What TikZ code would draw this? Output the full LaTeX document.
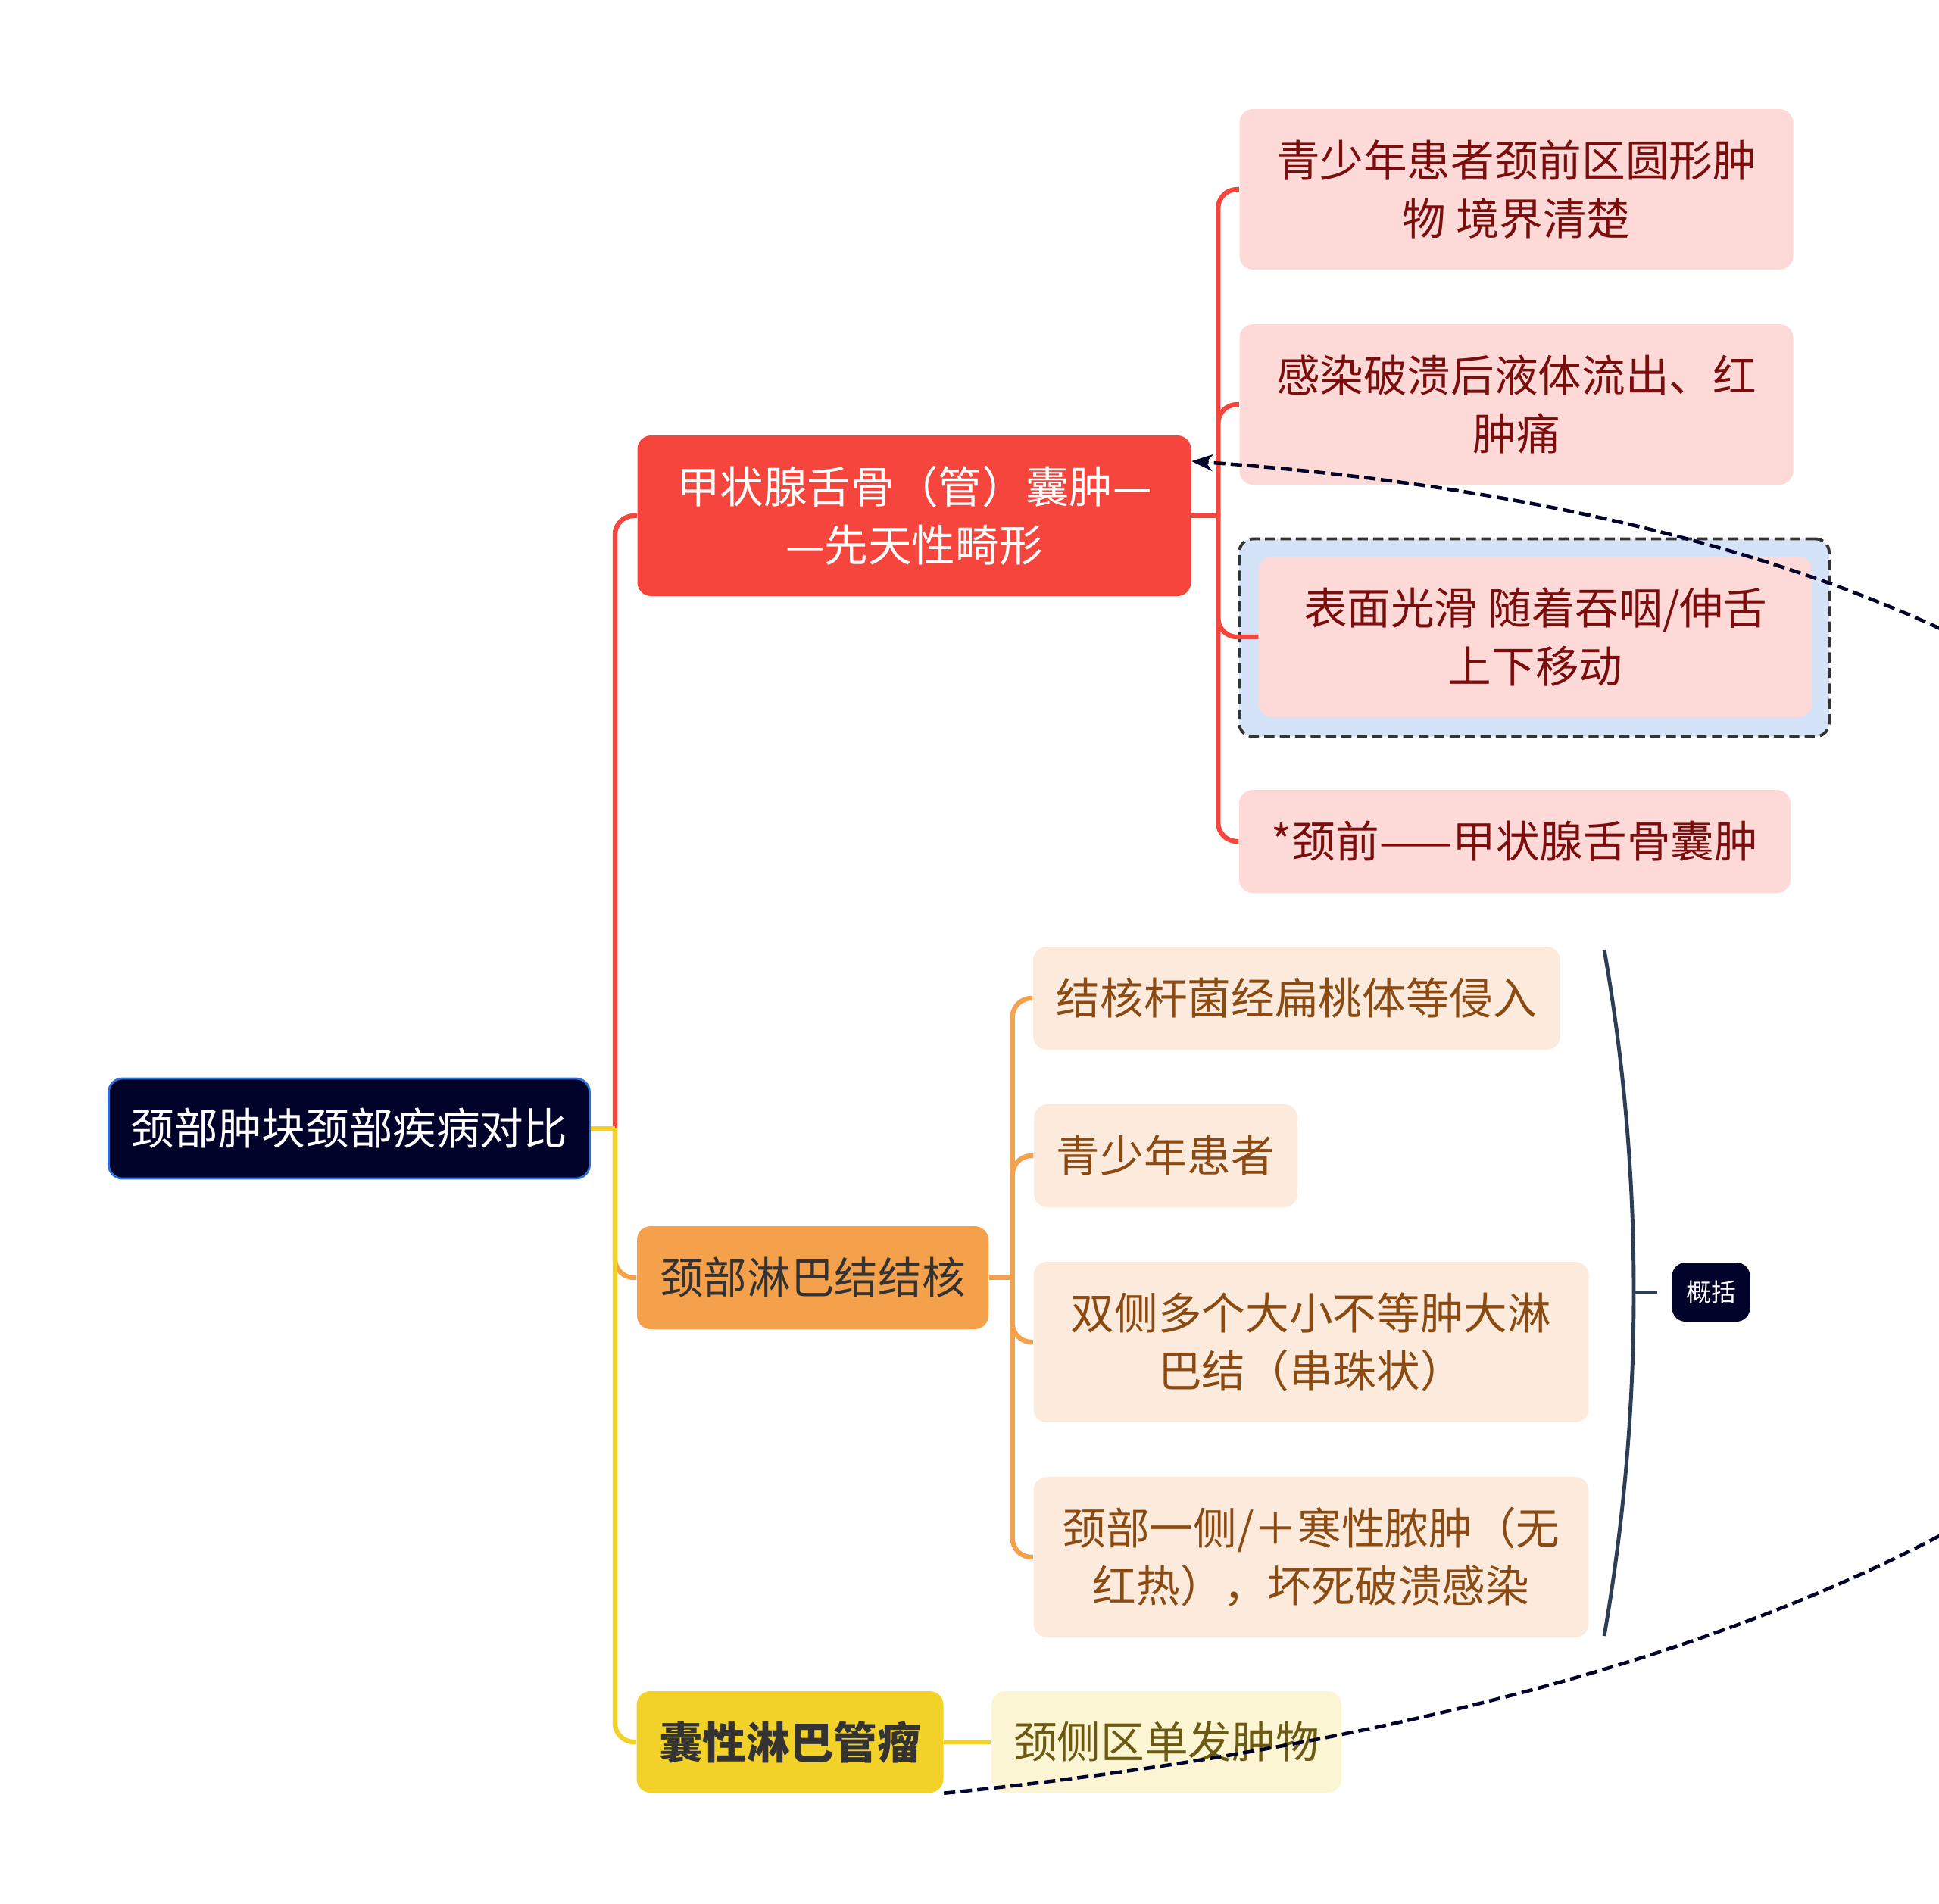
\documentclass[tikz,border=0pt]{standalone}
\usepackage{fontspec}
\setmainfont{Noto Sans CJK SC}
\usetikzlibrary{arrows.meta}

\definecolor{rootnavy}{HTML}{02032A}
\definecolor{rootedge}{HTML}{2F6FD6}
\definecolor{thyred}{HTML}{F5453D}
\definecolor{thyleaf}{HTML}{FDD9D8}
\definecolor{thytext}{HTML}{7B0D0D}
\definecolor{lymorange}{HTML}{F5A04B}
\definecolor{lymleaf}{HTML}{FCEBDC}
\definecolor{lymtext}{HTML}{8A4A12}
\definecolor{cystyellow}{HTML}{F2D228}
\definecolor{cystleaf}{HTML}{FCF5D3}
\definecolor{cysttext}{HTML}{6B5A12}
\definecolor{darktext}{HTML}{333333}
\definecolor{markblue}{HTML}{D5E3F8}
\definecolor{sumgray}{HTML}{2C3E55}

\begin{document}
\begin{tikzpicture}[
    every node/.style={align=center, inner sep=0pt, rounded corners=0.18cm,
      font=\fontsize{16.4}{21.8}\selectfont},
    box/.style={fill=#1, minimum height=1.36cm},
    redleaf/.style={box=thyleaf, text=thytext, minimum width=7.31cm},
    orleaf/.style={box=lymleaf, text=lymtext},
    branch/.style={draw=#1, line width=1.8pt, rounded corners=0.25cm},
    sumline/.style={draw=sumgray, line width=1.4pt},
    relation/.style={draw=rootnavy, line width=1.3pt, dash pattern=on 4.3pt off 2pt,
      -{Stealth[length=0.28cm,width=0.22cm]}}
  ]
  \useasboundingbox (0,0) rectangle (25.6,-25.13);

  % main topic and branches
  \node[box=rootnavy, draw=rootedge, line width=0.8pt, text=white, minimum width=6.35cm, minimum height=1.32cm] (root) at (4.61,-14.90) {颈部肿块颈部疾病对比};
  \node[box=thyred, text=white, minimum width=7.31cm, minimum height=2.12cm] (thy) at (12.07,-6.81) {甲状腺舌骨（管）囊肿—\\—先天性畸形};
  \node[box=lymorange, text=darktext, minimum width=4.64cm] (tb) at (10.73,-16.87) {颈部淋巴结结核};
  \node[box=cystyellow, text=darktext, font=\fontsize{16.4}{21.8}\selectfont\bfseries, minimum width=4.05cm, minimum height=1.34cm] (cyst) at (10.43,-23.00) {囊性淋巴管瘤};

  % leaves of the red branch
  \node[redleaf, minimum height=2.12cm] (r1) at (20.02,-2.50) {青少年患者颈前区圆形肿\\物 境界清楚};
  \node[redleaf, minimum height=2.12cm] (r2) at (20.02,-5.34) {感染破溃后液体流出、红\\肿痛};
  \node[fill=markblue, draw=darktext, line width=1.1pt, dash pattern=on 3.8pt off 2pt, minimum width=7.79cm, minimum height=2.61cm] (mark) at (20.255,-8.42) {};
  \node[redleaf, minimum width=7.30cm, minimum height=2.12cm] (r3) at (20.27,-8.41) {表面光滑 随着吞咽/伸舌\\上下移动};
  \node[redleaf, minimum width=7.28cm] (r4) at (20.00,-11.11) {*颈前——甲状腺舌骨囊肿};

  % leaves of the orange branch
  \node[orleaf, minimum width=6.96cm] (o1) at (17.12,-13.18) {结核杆菌经扁桃体等侵入};
  \node[orleaf, minimum width=3.48cm] (o2) at (15.39,-15.26) {青少年患者};
  \node[orleaf, minimum width=7.33cm, minimum height=2.12cm] (o3) at (17.31,-17.72) {双侧多个大小不等肿大淋\\巴结（串珠状）};
  \node[orleaf, minimum width=7.33cm, minimum height=2.12cm] (o4) at (17.31,-20.56) {颈部一侧/＋寒性脓肿（无\\红热），坏死破溃感染};

  % leaf of the yellow branch
  \node[box=cystleaf, text=cysttext, minimum width=4.62cm, minimum height=1.34cm] (side) at (15.40,-23.00) {颈侧区单发肿物};

  % summary
  \node[box=rootnavy, text=white, font=\fontsize{9.3}{11}\selectfont, minimum width=1.03cm, minimum height=0.78cm] (summ) at (22.59,-17.06) {概括};

  % connectors
  \coordinate (hub) at ([xshift=0.32cm]root.east);
  \draw[branch=thyred] (hub) |- (thy.west);
  \draw[branch=lymorange] (hub) |- (tb.west);
  \draw[branch=cystyellow] (hub) |- (cyst.west);
  \draw[branch=cystyellow, rounded corners=0] (root.east) -- (hub);

  \coordinate (rhub) at ([xshift=0.35cm]thy.east);
  \draw[branch=thyred] (thy.east) -- (rhub);
  \foreach \leaf in {r1,r2,r3,r4}
    \draw[branch=thyred] (rhub) |- (\leaf.west);

  \coordinate (ohub) at ([xshift=0.31cm]tb.east);
  \draw[branch=lymorange] (tb.east) -- (ohub);
  \foreach \leaf in {o1,o2,o3,o4}
    \draw[branch=lymorange] (ohub) |- (\leaf.west);

  \draw[branch=cystyellow] (cyst) -- (side);

  % summary bracket
  \coordinate (btop) at (21.18,-12.54);
  \coordinate (bbot) at (21.18,-21.60);
  \coordinate (bmid) at (21.55,-17.06);
  \draw[sumline] (btop) .. controls (21.7,-15.5) and (21.7,-18.6) .. (bbot);
  \draw[sumline] (bmid) -- ([xshift=-0.19cm]summ.west);

  % relation
  \draw[relation] (cyst.south east) .. controls (36.46,-21.27) and (35.76,-7.5) .. ([yshift=0.72cm]thy.east);
\end{tikzpicture}
\end{document}
